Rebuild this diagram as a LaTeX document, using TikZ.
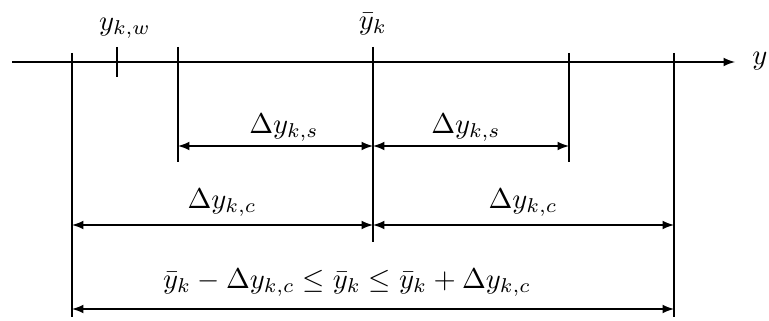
\documentclass[tikz,border=0pt]{standalone}
\usepackage{amsmath}
\usepackage{amssymb}

\begin{document}
\begin{tikzpicture}[
    x=0.35pt, y=-0.35pt,
    axis/.style={->, >=latex},
    dim/.style={<->, >=latex},
    guide/.style={line width=0.4pt}
]
\useasboundingbox (0,0) rectangle (769,321);

% Axis
\coordinate (a0) at (12,62);
\coordinate (a1) at (735,62);
\draw[axis] (a0) -- (a1);
\node (ylab) at (760,61) {$y$};

% Tick and guide lines
\coordinate (w0) at (117,47);  \coordinate (w1) at (117,77);
\coordinate (cl0) at (72,53);  \coordinate (cl1) at (72,317);
\coordinate (sl0) at (178,47); \coordinate (sl1) at (178,162);
\coordinate (m0) at (373,47);  \coordinate (m1) at (373,242);
\coordinate (sr0) at (569,53); \coordinate (sr1) at (569,162);
\coordinate (cr0) at (674,53); \coordinate (cr1) at (674,317);
\foreach \g in {w,cl,sl,m,sr,cr}
    \draw[guide] (\g0) -- (\g1);

\node (wlab) at (125,28) {$y_{k,w}$};
\node (mlab) at (373,24) {$\bar{y}_k$};

% Dimension arrows
\coordinate (s1) at (178,146); \coordinate (s2) at (373,146); \coordinate (s3) at (569,146);
\coordinate (c1) at (72,225);  \coordinate (c2) at (373,225); \coordinate (c3) at (674,225);
\coordinate (b1) at (72,309);  \coordinate (b2) at (674,309);

\draw[dim] (s1) -- (s2);
\draw[dim] (s2) -- (s3);
\draw[dim] (c1) -- (c2);
\draw[dim] (c2) -- (c3);
\draw[dim] (b1) -- (b2);

\node (slab1) at (284,128) {$\Delta y_{k,s}$};
\node (slab2) at (466,128) {$\Delta y_{k,s}$};
\node (clab1) at (222,203) {$\Delta y_{k,c}$};
\node (clab2) at (523,203) {$\Delta y_{k,c}$};
\node (blab) at (347,283) {$\bar{y}_k - \Delta y_{k,c} \leq \bar{y}_k \leq \bar{y}_k + \Delta y_{k,c}$};

\end{tikzpicture}
\end{document}
